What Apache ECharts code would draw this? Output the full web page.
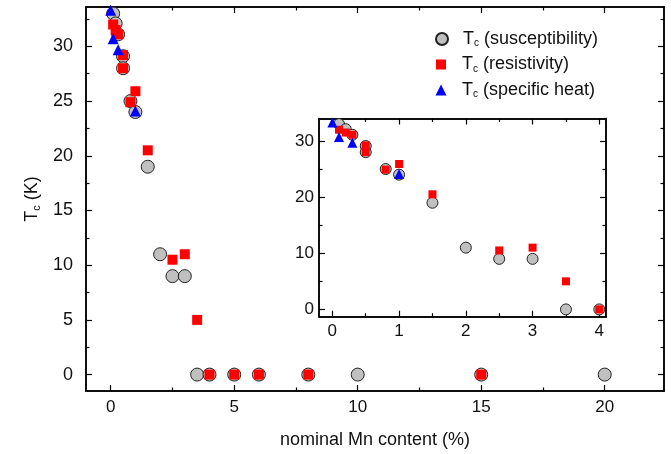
<!DOCTYPE html>
<html>
<head>
<meta charset="utf-8">
<script src="https://cdn.jsdelivr.net/npm/echarts@6/dist/echarts.min.js"></script>
<style>
html,body{margin:0;padding:0;background:#fff;}
#chart{width:671px;height:454px;}
</style>
</head>
<body>
<div id="chart"></div>
<script>
// ---- data ----
const suscX = [0.1, 0.2, 0.3, 0.5, 0.5, 0.8, 1, 1.5, 2, 2.5, 3, 3.5, 4, 5, 6, 8, 10, 15, 20];
const suscY = [33, 32.1, 31.1, 29.1, 28, 25, 24, 19, 11, 9, 9, 0, 0, 0, 0, 0, 0, 0, 0];
const resX = [0.1, 0.2, 0.3, 0.5, 0.5, 0.8, 1, 1.5, 2.5, 3, 3.5, 4, 5, 6, 8, 15];
const resY = [32, 31.5, 31.1, 29.2, 28, 24.9, 25.9, 20.5, 10.5, 11, 5, 0, 0, 0, 0, 0];
const heatX = [0, 0.1, 0.3, 1];
const heatY = [33.3, 30.7, 29.7, 24.1];

const seriesNames = ['susceptibility', 'resistivity', 'specific heat'];

// tick values
const mainXTicks = [0, 5, 10, 15, 20];
const mainXMinor = [2.5, 7.5, 12.5, 17.5];
const mainYTicks = [0, 5, 10, 15, 20, 25, 30];
const mainYMinor = [2.5, 7.5, 12.5, 17.5, 22.5, 27.5, 32.5];
const insetXTicks = [0, 1, 2, 3, 4];
const insetXMinor = [0.5, 1.5, 2.5, 3.5];
const insetYTicks = [0, 10, 20, 30];
const insetYMinor = [5, 15, 25];

const zip = (xs, ys) => xs.map((x, i) => [x, ys[i]]);
const FONT = 'Liberation Sans';

function axisPair(kind, grid, min, max, major, minor, labelSize, labelMargin) {
  const posA = kind === 'x' ? 'bottom' : 'left';
  const posB = kind === 'x' ? 'top' : 'right';
  const mk = (pos, values, len, showLabel) => ({
    type: 'value', gridIndex: grid, min: min, max: max, position: pos,
    axisLine: { show: true, onZero: false, lineStyle: { color: '#000', width: 1.5 } },
    splitLine: { show: false },
    axisTick: { show: true, inside: true, length: len, customValues: values,
      lineStyle: { color: '#000', width: 1.2 } },
    axisLabel: showLabel ? { show: true, customValues: values, fontFamily: FONT,
      fontSize: labelSize, color: '#111', margin: labelMargin } : { show: false }
  });
  return [
    mk(posA, major, 6, true),
    mk(posA, minor, 3.5, false),
    mk(posB, major, 6, false),
    mk(posB, minor, 3.5, false)
  ];
}

const xAxes = axisPair('x', 0, -1, 22.4, mainXTicks, mainXMinor, 17, 8)
  .concat(axisPair('x', 1, -0.2, 4.1, insetXTicks, insetXMinor, 17, 6));
const yAxes = axisPair('y', 0, -1.5, 33.6, mainYTicks, mainYMinor, 18, 13)
  .concat(axisPair('y', 1, -1.3, 34, insetYTicks, insetYMinor, 17, 5));

// axis names on main axes
Object.assign(xAxes[0], {
  name: 'nominal Mn content (%)', nameLocation: 'middle', nameGap: 40,
  nameTextStyle: { fontFamily: FONT, fontSize: 18, color: '#111' }
});
Object.assign(yAxes[0], {
  name: '{n|T}{s|c}{n| (K)}', nameLocation: 'middle', nameGap: 44, nameRotate: 90,
  nameTextStyle: { fontFamily: FONT, fontSize: 18, color: '#111',
    rich: { n: { fontFamily: FONT, fontSize: 18, color: '#111' },
            s: { fontFamily: FONT, fontSize: 11, color: '#111', padding: [9, 0, 0, 0] } } }
});

const styles = [
  { symbol: 'circle', color: '#c0c0c0', border: '#222', bw: 1 },
  { symbol: 'rect', color: '#ff0000', border: '#ff0000', bw: 0 },
  { symbol: 'triangle', color: '#0000ff', border: '#0000ff', bw: 0 }
];
const mainSizes = [13, 10, 11];
const insetSizes = [11, 8, 10];
const legendSizes = [12, 10, 11];
const legendRows = [37, 62.5, 88];
const dataSets = [zip(suscX, suscY), zip(resX, resY), zip(heatX, heatY)];

const series = [];
dataSets.forEach((d, i) => {
  series.push({
    type: 'scatter', name: seriesNames[i], xAxisIndex: 0, yAxisIndex: 0,
    symbol: styles[i].symbol, symbolSize: mainSizes[i], data: d,
    itemStyle: { color: styles[i].color, borderColor: styles[i].border, borderWidth: styles[i].bw, opacity: 1 },
    emphasis: { disabled: true }, z: 2 + i
  });
});
dataSets.forEach((d, i) => {
  series.push({
    type: 'scatter', name: seriesNames[i] + ' inset', xAxisIndex: 4, yAxisIndex: 4,
    symbol: styles[i].symbol, symbolSize: insetSizes[i], data: d.filter(p => p[0] <= 4),
    itemStyle: { color: styles[i].color, borderColor: styles[i].border, borderWidth: styles[i].bw, opacity: 1 },
    emphasis: { disabled: true }, z: 2 + i
  });
});

const legends = seriesNames.map((n, i) => {
  const s = legendSizes[i];
  return {
    orient: 'vertical', left: 436 - s / 2, top: legendRows[i] - 12,
    itemWidth: s, itemHeight: s, selectedMode: false,
    data: [{ name: n, icon: styles[i].symbol }],
    formatter: nm => '{f|T}{s|c}{n| (' + nm + ')}',
    textStyle: { fontFamily: FONT, fontSize: 18, color: '#111',
      rich: { f: { fontFamily: FONT, fontSize: 18, color: '#111', padding: [0, 0, 0, 16 - s / 2] },
              n: { fontFamily: FONT, fontSize: 18, color: '#111' },
              s: { fontFamily: FONT, fontSize: 10, color: '#111', padding: [9, 0, 0, 0] } } }
  };
});

const chart = echarts.init(document.getElementById('chart'), null, { renderer: 'canvas' });
chart.setOption({
  animation: false,
  backgroundColor: '#fff',
  grid: [
    { left: 86, top: 7, right: 7, bottom: 62.5 },
    { left: 319, top: 118.5, right: 65, bottom: 137.3, backgroundColor: '#fff', show: true, borderWidth: 0 }
  ],
  xAxis: xAxes,
  yAxis: yAxes,
  legend: legends,
  series: series
});
</script>
</body>
</html>
